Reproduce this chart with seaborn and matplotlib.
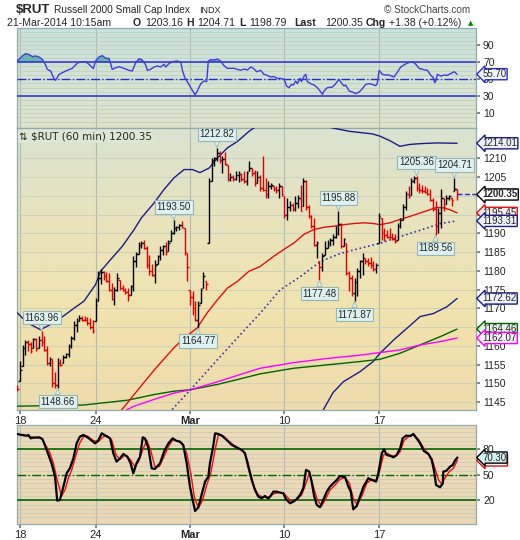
import numpy as np
import pandas as pd
import seaborn as sns
import matplotlib
matplotlib.use("Agg")
import matplotlib.pyplot as plt
import matplotlib.transforms as mtrans
from matplotlib.colors import LinearSegmentedColormap

sns.set_theme(style="ticks")
plt.rcParams["font.family"] = ["Liberation Sans", "DejaVu Sans"]

# ---- hourly bars, Feb 14 (last bar) .. Mar 21 10:15 ----
highs = [
    1149.5,
    1156.0, 1160.3, 1161.5, 1161.5, 1161.0, 1162.0, 1162.0,    # Feb 18
    1162.5, 1163.96, 1162.5, 1160.0, 1157.0, 1156.5, 1153.0,   # Feb 19
    1156.8, 1156.5, 1157.5, 1158.0, 1160.5, 1162.5, 1166.5,    # Feb 20
    1167.5, 1168.3, 1168.0, 1168.0, 1167.8, 1167.3, 1167.0,    # Feb 21
    1172.8, 1179.9, 1180.5, 1180.0, 1179.7, 1179.3, 1176.8,    # Feb 24
    1175.8, 1179.5, 1177.5, 1176.3, 1175.5, 1175.5, 1176.3,    # Feb 25
    1183.9, 1185.0, 1187.8, 1188.0, 1188.3, 1186.5, 1184.3,    # Feb 26
    1181.7, 1183.0, 1184.3, 1186.5, 1187.0, 1187.8, 1188.3,    # Feb 27
    1191.0, 1193.5, 1192.0, 1192.5, 1193.2, 1191.5, 1184.8,    # Feb 28
    1175.0, 1174.5, 1171.9, 1171.9, 1175.4, 1179.7, 1177.2,    # Mar 3
    1204.8, 1210.2, 1210.3, 1212.82, 1212.0, 1210.5, 1211.8,   # Mar 4
    1208.3, 1206.1, 1205.6, 1206.5, 1206.5, 1206.1, 1206.5,    # Mar 5
    1206.5, 1209.2, 1207.5, 1207.0, 1206.5, 1205.6, 1210.5,    # Mar 6
    1204.8, 1203.9, 1203.4, 1202.5, 1202.5, 1203.4, 1202.5,    # Mar 7
    1199.9, 1199.4, 1198.5, 1198.1, 1199.9, 1200.3, 1203.0,    # Mar 10
    1204.8, 1204.3, 1197.6, 1195.0, 1194.1, 1188.0, 1182.5,    # Mar 11
    1184.8, 1188.0, 1188.3, 1188.8, 1189.7, 1191.9, 1195.88,   # Mar 12
    1192.8, 1188.8, 1187.4, 1180.0, 1179.0, 1178.0, 1180.8,    # Mar 13
    1183.0, 1184.8, 1183.5, 1183.4, 1183.8, 1182.5, 1182.0,    # Mar 14
    1195.4, 1194.1, 1191.4, 1191.0, 1191.4, 1190.1, 1189.7,    # Mar 17
    1192.8, 1194.1, 1197.7, 1201.2, 1202.5, 1204.8, 1205.2,    # Mar 18
    1205.36, 1203.4, 1202.9, 1202.5, 1202.0, 1201.7, 1199.4,   # Mar 19
    1198.5, 1196.8, 1201.7, 1199.4, 1200.3, 1200.3, 1199.5,    # Mar 20
    1204.71, 1201.9]                                           # Mar 21
lows = [
    1148.0,
    1150.5, 1154.5, 1157.5, 1158.5, 1158.0, 1159.5, 1158.5,
    1159.5, 1160.0, 1158.5, 1155.0, 1154.5, 1149.0, 1148.7,
    1148.66, 1154.5, 1155.5, 1156.8, 1157.0, 1159.5, 1161.5,
    1163.7, 1166.5, 1166.6, 1166.5, 1165.5, 1164.5, 1163.4,
    1166.5, 1171.9, 1176.5, 1177.5, 1177.0, 1174.5, 1172.3,
    1171.0, 1174.5, 1175.0, 1174.5, 1173.7, 1172.0, 1173.5,
    1174.5, 1181.0, 1184.5, 1186.0, 1185.7, 1180.8, 1179.0,
    1178.5, 1176.8, 1181.7, 1183.0, 1184.3, 1184.3, 1185.2,
    1188.0, 1189.7, 1190.5, 1191.0, 1191.3, 1184.3, 1177.2,
    1171.0, 1168.3, 1166.5, 1164.77, 1171.4, 1175.4, 1175.0,
    1187.4, 1203.9, 1207.9, 1209.2, 1208.8, 1206.1, 1208.3,
    1203.9, 1203.9, 1203.9, 1204.3, 1203.6, 1203.9, 1203.4,
    1203.0, 1206.5, 1205.2, 1202.5, 1203.4, 1201.2, 1201.2,
    1199.4, 1199.4, 1201.7, 1201.2, 1200.8, 1199.4, 1200.0,
    1194.1, 1193.6, 1195.9, 1195.9, 1195.9, 1196.8, 1195.9,
    1197.2, 1196.3, 1194.1, 1191.4, 1186.6, 1183.4, 1177.48,
    1180.0, 1184.3, 1186.0, 1186.5, 1187.0, 1188.8, 1189.5,
    1186.1, 1186.5, 1179.0, 1174.5, 1173.2, 1171.87, 1173.2,
    1178.1, 1179.0, 1181.7, 1181.2, 1180.8, 1180.0, 1179.5,
    1187.4, 1188.3, 1187.9, 1188.8, 1188.6, 1188.3, 1187.4,
    1188.3, 1191.4, 1193.6, 1196.3, 1199.4, 1200.3, 1203.4,
    1201.2, 1200.8, 1200.8, 1200.8, 1200.3, 1198.5, 1195.9,
    1189.56, 1190.1, 1191.4, 1195.9, 1197.7, 1199.0, 1197.3,
    1201.2, 1198.79]
closes = [
    1148.5,
    1153.5, 1159.5, 1161.0, 1160.5, 1158.7, 1161.8, 1159.5,
    1161.5, 1161.0, 1159.0, 1155.5, 1156.5, 1150.0, 1149.5,
    1155.5, 1155.0, 1157.0, 1157.7, 1160.0, 1162.0, 1165.5,
    1166.5, 1167.5, 1167.0, 1166.8, 1166.0, 1165.0, 1164.0,
    1171.0, 1178.0, 1179.8, 1178.5, 1177.3, 1175.0, 1172.6,
    1175.0, 1178.0, 1175.5, 1175.0, 1174.3, 1173.5, 1176.0,
    1182.5, 1184.5, 1187.0, 1187.5, 1186.0, 1181.5, 1180.0,
    1179.0, 1181.5, 1184.0, 1185.5, 1186.5, 1185.0, 1187.5,
    1190.0, 1191.5, 1191.8, 1192.2, 1191.7, 1185.0, 1181.0,
    1173.0, 1170.0, 1167.0, 1171.0, 1175.0, 1178.5, 1176.5,
    1204.0, 1209.5, 1210.0, 1211.5, 1209.5, 1209.8, 1208.5,
    1204.5, 1205.0, 1204.5, 1205.5, 1205.8, 1204.5, 1204.0,
    1206.0, 1207.5, 1206.0, 1203.5, 1205.0, 1202.0, 1201.5,
    1200.5, 1202.5, 1203.0, 1201.8, 1201.5, 1202.5, 1200.5,
    1194.8, 1197.0, 1197.5, 1196.5, 1198.0, 1199.5, 1196.0,
    1203.9, 1197.0, 1194.5, 1192.0, 1187.0, 1187.5, 1181.0,
    1184.0, 1186.0, 1187.5, 1188.2, 1189.0, 1190.0, 1192.5,
    1186.5, 1188.5, 1179.5, 1178.0, 1174.0, 1177.0, 1180.0,
    1182.5, 1183.5, 1182.5, 1182.0, 1181.5, 1180.5, 1181.5,
    1194.5, 1190.0, 1189.5, 1189.0, 1188.9, 1188.5, 1188.0,
    1192.0, 1193.5, 1197.0, 1200.5, 1200.0, 1204.0, 1204.8,
    1202.0, 1201.5, 1201.2, 1201.0, 1200.5, 1199.0, 1196.5,
    1192.0, 1195.5, 1199.5, 1197.0, 1199.5, 1200.0, 1198.97,
    1201.8, 1200.35]

week_bars = [1, 29, 64, 99, 134]
week_labels = ["18", "24", "Mar", "10", "17"]

# overlays (bar index, value)
upper_bar = [0, 2.5, 4.9, 8.6, 12.4, 16.1, 20.4, 24.7, 29, 30.9, 34.6, 38.9, 43.3, 46, 50.7,
             54.4, 58.1, 61.8, 64.9, 67.7, 71.1, 74.2, 77.9, 81.6, 85.9, 87.7, 95, 105, 112,
             116.8, 123, 131.7, 134.4, 138.1, 141.8, 145.5, 149.2, 155.4, 163]
upper_val = [1168.8, 1167.0, 1165.7, 1164.3, 1165.7, 1167.4, 1169.7, 1171.9, 1176.3, 1179.9,
             1183.0, 1186.5, 1191.0, 1194.1, 1198.1, 1201.7, 1204.8, 1207.0, 1207.0, 1206.2,
             1207.4, 1210.1, 1212.8, 1214.5, 1217.2, 1218.1, 1221.0, 1221.0, 1219.5, 1218.1,
             1217.2, 1216.5, 1215.9, 1214.7, 1213.2, 1213.7, 1213.9, 1214.1, 1214.01]
lower_bar = [106, 113.4, 117, 120.8, 127, 131.9, 134.4, 139.4, 144.3, 149.3, 154.2, 159.2, 163]
lower_val = [1134.0, 1142.9, 1147.5, 1150.4, 1153.1, 1155.8, 1158.0, 1161.5, 1164.6, 1167.8,
             1168.6, 1170.4, 1172.62]
ma_red_bar = [38.7, 43.3, 50.7, 54.4, 58.1, 61.8, 66.7, 70.4, 74.2, 77.9, 81.6, 85.9, 89.9, 95.1,
              98.8, 102.5, 106.2, 109.9, 113.6, 117.3, 121, 124.7, 128.4, 132.1, 134.4, 138.1,
              141.8, 145.5, 149.2, 152.9, 155.4, 157.8, 160.3, 163]
ma_red_val = [1142.9, 1147.0, 1153.5, 1156.5, 1159.5, 1162.0, 1164.8, 1168.8, 1172.3, 1175.4,
              1177.2, 1179.9, 1181.1, 1183.9, 1185.7, 1187.4, 1189.7, 1191.0, 1191.6, 1191.9,
              1192.3, 1192.6, 1192.8, 1192.6, 1192.3, 1192.8, 1193.7, 1194.5, 1195.4, 1196.3,
              1196.9, 1196.8, 1196.3, 1195.45]
ma_dot_bar = [57.4, 64.2, 72.8, 82.7, 89.9, 97.4, 104.8, 112.2, 119.6, 127, 134.4, 141.8, 149.3,
              156.7, 163]
ma_dot_val = [1143.0, 1148.3, 1155.2, 1163.0, 1168.6, 1174.9, 1178.4, 1182.4, 1184.6, 1186.0,
              1187.3, 1189.1, 1190.8, 1192.6, 1193.31]
ma_green_bar = [0, 24.5, 40.9, 50.7, 58.1, 64.3, 74.2, 81.6, 89.9, 102.3, 114.6, 127, 134.4,
                141.8, 149.2, 156.6, 163]
ma_green_val = [1143.9, 1144.2, 1145.5, 1147.0, 1147.9, 1148.3, 1149.7, 1151.0, 1152.5, 1154.0,
                1154.9, 1155.8, 1156.4, 1158.0, 1160.2, 1162.4, 1164.46]
ma_mag_bar = [40.5, 43.3, 50.7, 58.1, 64.3, 74.2, 81.6, 89.9, 102.3, 114.6, 127, 134.4, 141.8,
              149.2, 156.6, 163]
ma_mag_val = [1142.9, 1143.9, 1145.7, 1147.4, 1148.3, 1150.4, 1152.1, 1154.0, 1155.5, 1156.6,
              1157.5, 1158.2, 1158.9, 1160.2, 1161.1, 1162.07]

peak_bar = [9, 15, 58, 67, 74, 112, 119, 125, 148, 155, 162]
peak_val = [1163.96, 1148.66, 1193.50, 1164.77, 1212.82, 1177.48, 1195.88, 1171.87, 1205.36,
            1189.56, 1204.71]
peak_side = ["hi", "lo", "hi", "lo", "hi", "lo", "hi", "lo", "hi", "lo", "hi"]

# RSI(14)
rsi_bar = [0.0, 1.9, 3.1, 4.3, 5.6, 6.8, 8.0, 9.3, 10.5, 11.1,
           12.4, 13.4, 14.2, 15.5, 16.7, 18.5, 20.4, 22.3, 23.5, 25.3,
           26.6, 28.2, 29.0, 30.3, 31.5, 32.8, 34.0, 35.2, 36.5, 37.7,
           39.5, 41.4, 42.6, 43.9, 45.1, 46.3, 47.6, 48.2, 49.4, 50.7,
           51.9, 53.1, 54.4, 55.0, 56.2, 57.5, 59.3, 60.6, 61.2, 62.0,
           63.0, 64.3, 65.9, 66.7, 68.0, 69.2, 70.2, 70.8, 71.7, 72.9,
           74.1, 75.4, 76.4, 77.8, 80.3, 81.6, 82.8, 84.0, 85.3, 86.5,
           87.5, 88.7, 90.2, 91.4, 92.7, 93.9, 95.1, 96.4, 97.6, 98.9,
           99.8, 100.7, 101.6, 102.3, 103.2, 103.8, 104.8, 105.3, 106.3, 106.9,
           107.5, 108.7, 110.0, 111.2, 112.2, 113.1, 113.7, 114.9, 116.8, 118.0,
           119.2, 120.5, 121.1, 121.7, 123.0, 124.2, 125.4, 126.7, 127.9, 129.1,
           130.4, 131.6, 132.8, 133.4, 134.1, 135.3, 136.5, 137.8, 139.6, 140.9,
           142.1, 143.3, 144.6, 146.4, 147.7, 148.9, 150.1, 152.0, 153.2, 154.2,
           154.7, 155.1, 155.7, 156.9, 158.2, 159.4, 160.6, 161.9, 163.0]
rsi_val = [71.2, 77.1, 79.8, 79.0, 76.3, 77.1, 75.9, 73.1, 66.5, 61.4,
           59.4, 51.6, 48.4, 55.5, 57.5, 60.2, 62.6, 68.8, 70.0, 70.4,
           67.3, 62.2, 71.2, 75.9, 77.5, 74.3, 74.3, 61.4, 63.3, 64.5,
           62.6, 60.2, 59.4, 69.2, 73.9, 72.4, 66.5, 60.2, 61.4, 64.1,
           65.3, 64.1, 67.3, 64.1, 68.0, 70.4, 71.2, 70.0, 60.2, 52.4,
           46.9, 39.8, 31.2, 35.9, 44.5, 47.7, 46.9, 71.2, 72.8, 72.4,
           73.5, 71.2, 66.5, 62.6, 62.6, 61.4, 60.2, 61.8, 60.6, 64.1,
           62.6, 58.6, 60.2, 55.5, 54.3, 52.4, 52.8, 50.8, 50.8, 49.6,
           41.8, 39.8, 43.7, 42.9, 47.7, 44.5, 50.8, 46.9, 53.5, 55.5,
           46.9, 44.5, 43.0, 39.8, 35.9, 32.0, 35.9, 39.8, 40.6, 44.5,
           49.6, 43.7, 41.8, 42.9, 35.9, 34.7, 32.8, 34.7, 38.6, 43.7,
           44.5, 43.7, 42.2, 44.5, 60.2, 55.5, 54.7, 54.7, 52.4, 58.2,
           64.1, 66.5, 68.8, 70.4, 67.3, 62.6, 61.4, 60.2, 54.7, 51.6,
           45.7, 47.7, 55.5, 53.5, 54.7, 54.3, 56.3, 58.6, 55.7]

# Slow stochastic %K (black) and %D (red)
k_bar = [0.0, 1.6, 3.5, 4.1, 5.0, 5.9, 8.2, 9.4, 10.9, 12.7,
         14.0, 14.8, 15.8, 17.1, 18.3, 19.5, 20.8, 22.0, 23.2, 24.5,
         26.0, 27.6, 28.8, 30.0, 31.3, 32.9, 34.4, 35.6, 36.8, 38.1,
         39.3, 40.8, 42.0, 43.0, 44.2, 45.5, 46.5, 47.3, 48.6, 49.8,
         51.0, 52.9, 54.4, 56.0, 57.6, 58.8, 60.3, 61.5, 62.8, 64.0,
         65.0, 65.9, 67.1, 68.3, 69.6, 70.8, 71.4, 72.7, 73.3, 74.5,
         75.8, 77.6, 79.5, 81.3, 83.2, 84.4, 85.6, 86.9, 88.1, 89.3,
         90.6, 91.8, 93.0, 93.9, 94.9, 96.1, 97.4, 98.6, 99.6, 101.1,
         102.3, 103.5, 104.8, 106.0, 107.0, 108.2, 109.1, 110.0, 111.0, 112.2,
         113.4, 114.7, 115.9, 117.1, 118.4, 119.6, 121.5, 122.7, 123.6, 124.5,
         125.8, 127.0, 128.3, 130.1, 131.4, 133.0, 133.8, 135.1, 135.9, 136.9,
         138.4, 139.4, 140.6, 141.9, 142.8, 144.1, 145.6, 146.8, 148.0, 149.3,
         150.7, 152.4, 153.6, 154.5, 155.2, 156.7, 157.7, 157.9, 159.1, 160.4,
         161.4, 162.2, 163.1]
k_val = [98.0, 96.9, 96.1, 96.9, 92.9, 93.7, 94.1, 91.8, 79.2, 63.5,
         47.8, 19.6, 20.4, 36.1, 51.8, 57.6, 69.4, 87.0, 94.9, 96.9,
         94.1, 90.2, 87.0, 90.2, 98.8, 95.7, 92.9, 75.3, 65.5, 69.4,
         74.5, 71.4, 63.5, 51.8, 63.5, 71.4, 94.1, 92.9, 81.2, 57.6,
         56.9, 63.5, 77.3, 87.0, 92.9, 90.2, 89.0, 85.1, 63.5, 36.1,
         20.4, 7.4, 11.8, 26.3, 42.0, 47.8, 63.5, 85.1, 98.8, 98.0,
         96.1, 91.0, 85.1, 82.3, 79.2, 75.3, 59.6, 43.9, 32.1, 24.3,
         22.4, 25.1, 22.0, 25.1, 30.2, 30.2, 29.0, 28.2, 21.2, 16.5,
         18.4, 21.2, 26.3, 34.1, 55.7, 53.7, 42.0, 25.1, 14.5, 11.8,
         20.4, 30.2, 36.1, 40.0, 43.9, 48.6, 47.0, 36.1, 30.2, 9.4,
         13.3, 24.3, 36.1, 45.9, 43.9, 42.0, 51.8, 75.3, 80.0, 73.3,
         72.1, 70.6, 73.3, 81.2, 92.9, 96.1, 95.7, 98.0, 92.9, 87.0,
         78.0, 74.5, 67.4, 53.7, 38.0, 35.3, 40.0, 53.7, 54.9, 59.6,
         61.6, 66.7, 70.3]
d_bar = [0.0, 3.5, 5.9, 9.0, 11.9, 13.4, 14.8, 16.4, 17.7, 18.9,
         20.2, 21.4, 23.0, 24.5, 26.0, 28.2, 30.0, 31.9, 33.4, 35.0,
         36.6, 38.1, 39.9, 41.8, 43.6, 44.9, 46.5, 48.0, 49.4, 51.0,
         52.6, 54.1, 56.0, 57.6, 59.1, 61.0, 62.8, 64.3, 65.6, 67.1,
         68.7, 70.2, 71.7, 73.3, 74.5, 76.4, 78.2, 80.1, 82.0, 83.8,
         85.3, 86.5, 87.7, 89.3, 91.2, 93.0, 94.9, 96.8, 98.6, 100.1,
         101.7, 103.5, 105.4, 107.0, 108.2, 109.7, 111.2, 112.8, 114.4, 115.9,
         117.8, 119.6, 121.5, 123.1, 124.5, 126.0, 127.6, 129.5, 131.4, 133.2,
         134.4, 135.7, 137.2, 138.8, 140.4, 141.9, 143.3, 145.0, 146.8, 148.7,
         150.3, 152.0, 153.6, 154.8, 156.1, 157.3, 158.5, 160.1, 161.6, 163.1]
d_val = [98.0, 95.7, 94.1, 92.9, 77.3, 63.5, 43.9, 25.1, 32.2, 45.9,
         55.7, 69.4, 86.3, 94.9, 95.7, 90.2, 89.0, 94.9, 95.7, 91.0,
         73.3, 68.2, 73.3, 68.2, 59.6, 65.5, 79.2, 91.0, 79.2, 59.6,
         59.6, 69.4, 83.1, 91.0, 90.2, 87.0, 75.3, 51.8, 24.3, 10.6,
         20.4, 38.0, 51.8, 79.2, 96.9, 95.7, 90.2, 85.1, 81.2, 77.3,
         67.4, 51.8, 36.1, 26.3, 23.5, 23.5, 27.4, 29.0, 29.0, 23.5,
         18.4, 20.4, 26.3, 40.0, 51.8, 36.1, 20.4, 13.3, 22.3, 32.1,
         38.0, 44.7, 47.0, 40.0, 22.3, 14.5, 24.3, 40.0, 44.7, 43.1,
         55.7, 73.3, 75.3, 72.1, 72.1, 77.3, 90.2, 94.9, 96.9, 91.8,
         83.1, 75.3, 69.4, 57.6, 43.9, 39.2, 45.9, 53.7, 57.6, 66.9]

# ---------------------------------------------------------------
W, H = 520, 540
fig = plt.figure(figsize=(W / 100, H / 100), dpi=100)
fig.patch.set_facecolor("white")


def panel(top, bottom):
    return fig.add_axes([17 / W, 1 - bottom / H, 459 / W, (bottom - top) / H])


ax_rsi = panel(28, 128)
ax_px = panel(128, 410)
ax_st = panel(425, 524)
XLIM = (-0.1, 170.0)


def shade(ax, colors):
    cmap = LinearSegmentedColormap.from_list("bg", colors)
    ax.imshow(np.linspace(0, 1, 256).reshape(-1, 1), cmap=cmap, origin="lower",
              aspect="auto", extent=[0, 1, 0, 1], transform=ax.transAxes, zorder=0)


def tag(ax, y, text, ec, fc="white", bold=False):
    # value flag on the right axis, arrow pointing at the plot
    tr = mtrans.blended_transform_factory(ax.transAxes, ax.transData)
    ax.text(1.014, y, text, transform=tr, ha="left", va="center", fontsize=7,
            fontweight="bold" if bold else "normal", zorder=20, clip_on=False,
            bbox=dict(boxstyle="larrow,pad=0.06", fc=fc, ec=ec, lw=1.0))


for ax in (ax_rsi, ax_px, ax_st):
    for s in ax.spines.values():
        s.set_color("#93aaaa")
        s.set_linewidth(0.9)
    ax.yaxis.tick_right()
    ax.tick_params(axis="y", which="major", length=3, color="#777777", labelsize=7.5, pad=2)
    ax.tick_params(axis="y", which="minor", length=0)
    ax.set_xticks(week_bars)
    ax.grid(axis="x", color="#b2bcb4", lw=0.8)
    ax.grid(axis="y", which="both", color="#c9cdbe", lw=0.6)
    ax.set_axisbelow(True)

# ---------------- RSI panel ----------------
shade(ax_rsi, ["#dde5cb", "#c6e3dd"])
rsi_df = pd.DataFrame({"bar": rsi_bar, "rsi": rsi_val})
r = np.array(rsi_val)
ax_rsi.fill_between(rsi_bar, r, 70, where=r > 70, interpolate=True, color="#69b5ab", lw=0, zorder=2)
ax_rsi.fill_between(rsi_bar, r, 30, where=r < 30, interpolate=True, color="#69b5ab", lw=0, zorder=2)
ax_rsi.axhline(70, color="#2a2ad0", lw=1.1, zorder=3)
ax_rsi.axhline(30, color="#2a2ad0", lw=1.1, zorder=3)
ax_rsi.axhline(50, color="#2a2ad0", lw=1.0, ls="-.", zorder=3)
sns.lineplot(data=rsi_df, x="bar", y="rsi", ax=ax_rsi, color="#3d3de0", lw=1.0,
             estimator=None, sort=False, legend=False, zorder=4)
ax_rsi.set_ylim(-7.6, 110)
ax_rsi.set_yticks([10, 30, 50, 70, 90])
ax_rsi.set_yticks(np.arange(0, 110, 5), minor=True)
ax_rsi.tick_params(axis="x", labelbottom=False, length=0)
tag(ax_rsi, rsi_val[-1], f"{rsi_val[-1]:.2f}", "#2a2ad0", fc="#eef3f8")

# ---------------- price panel ----------------
shade(ax_px, ["#eedcac", "#f1e3ad", "#e9e3bd", "#d9e3d0"])
bars = np.arange(len(closes))
c = np.array(closes)
hi = np.array(highs)
lo = np.array(lows)
prev = np.r_[c[0] + 0.7, c[:-1]]
opens = np.clip(prev, lo, hi)
cols = np.where(c < prev, "#e00000", "#000000")
ax_px.vlines(bars, lo, hi, colors=cols, lw=1.0, zorder=5)
ax_px.hlines(opens, bars - 0.6, bars, colors=cols, lw=1.0, zorder=5)
ax_px.hlines(c, bars, bars + 0.6, colors=cols, lw=1.0, zorder=5)

overlays = [
    (upper_bar, upper_val, "#1c1c8a", "-", 1.0),
    (lower_bar, lower_val, "#1c1c8a", "-", 1.0),
    (ma_green_bar, ma_green_val, "#006400", "-", 1.0),
    (ma_mag_bar, ma_mag_val, "#ff00ff", "-", 1.0),
    (ma_red_bar, ma_red_val, "#e01010", "-", 1.0),
    (ma_dot_bar, ma_dot_val, "#3535a8", ":", 1.2),
]
for xb, yv, col, ls, lw in overlays:
    sns.lineplot(x=xb, y=yv, ax=ax_px, color=col, lw=lw, linestyle=ls,
                 estimator=None, sort=False, legend=False, zorder=4)

ax_px.hlines(c[-1], bars[-1], XLIM[1], colors="#2a2ad0", linestyles="--", lw=1.0, zorder=6)

for b, v, side in zip(peak_bar, peak_val, peak_side):
    dy = 6 if side == "hi" else -6
    ax_px.annotate(f"{v:.2f}", xy=(b, v), xytext=(0, dy), textcoords="offset points",
                   ha="center", va="bottom" if side == "hi" else "top", fontsize=7,
                   zorder=12,
                   bbox=dict(boxstyle="square,pad=0.18", fc="#dcf1f0", ec="#98b6b6", lw=0.8),
                   arrowprops=dict(arrowstyle="wedge,tail_width=0.5,shrink_factor=0.5",
                                   fc="#dcf1f0", ec="#98b6b6", lw=0.6, shrinkA=0, shrinkB=0))

ax_px.set_ylim(1142.88, 1218.08)
ax_px.set_yticks(np.arange(1145, 1211, 5))
ax_px.set_xticklabels(week_labels)
ax_px.tick_params(axis="x", length=3, color="#777777", labelsize=8, pad=1)
ax_px.get_xticklabels()[2].set_fontweight("bold")
ax_px.text(0.004, 0.988, f"\u21c5 $RUT (60 min) {c[-1]:.2f}", transform=ax_px.transAxes,
           ha="left", va="top", fontsize=7.5, family=["DejaVu Sans"], zorder=15,
           bbox=dict(fc="#dde5d3", ec="none", pad=0.8))

tag(ax_px, upper_val[-1], f"{upper_val[-1]:.2f}", "#1c1c8a", fc="#eef3f8")
tag(ax_px, ma_red_val[-1], f"{ma_red_val[-1]:.2f}", "#e01010", fc="#fbeeee")
tag(ax_px, ma_dot_val[-1], f"{ma_dot_val[-1]:.2f}", "#1c1c8a", fc="#eef3f8")
tag(ax_px, c[-1], f"{c[-1]:.2f}", "#000000", bold=True)
tag(ax_px, lower_val[-1], f"{lower_val[-1]:.2f}", "#1c1c8a", fc="#eef3f8")
tag(ax_px, ma_green_val[-1], f"{ma_green_val[-1]:.2f}", "#006400", fc="#e4f4e4")
tag(ax_px, ma_mag_val[-1], f"{ma_mag_val[-1]:.2f}", "#ff00ff", fc="#fbeefb")

# ---------------- stochastic panel ----------------
shade(ax_st, ["#ebd7b4", "#eedbb8"])
ax_st.axhline(80, color="#006400", lw=1.2, zorder=3)
ax_st.axhline(20, color="#006400", lw=1.2, zorder=3)
ax_st.axhline(50, color="#006400", lw=1.0, ls="-.", zorder=3)
sns.lineplot(x=d_bar, y=d_val, ax=ax_st, color="#ee1010", lw=1.0,
             estimator=None, sort=False, legend=False, zorder=4)
sns.lineplot(x=k_bar, y=k_val, ax=ax_st, color="#000000", lw=1.6,
             estimator=None, sort=False, legend=False, zorder=5)
ax_st.set_ylim(-7.9, 108.6)
ax_st.set_yticks([20, 50, 80])
ax_st.set_yticks(np.arange(0, 106, 5), minor=True)
ax_st.set_xticklabels(week_labels)
ax_st.tick_params(axis="x", length=3, color="#777777", labelsize=8, pad=1)
ax_st.get_xticklabels()[2].set_fontweight("bold")
tag(ax_st, d_val[-1], f"{d_val[-1]:.2f}", "#e01010")
tag(ax_st, k_val[-1], f"{k_val[-1]:.2f}", "#000000", fc="#d4f2f2")

for ax in (ax_rsi, ax_px, ax_st):
    ax.set_xlim(*XLIM)
    ax.set_xlabel("")
    ax.set_ylabel("")

# ---------------- header ----------------
def htext(xpx, ypx, s, **kw):
    fig.text(xpx / W, 1 - ypx / H, s, ha="left", va="center", **kw)


htext(16, 10, "$RUT", fontsize=9.5, fontweight="bold")
htext(54, 10, "Russell 2000 Small Cap Index", fontsize=7.3)
htext(199, 10.5, "INDX", fontsize=6.5)
htext(384, 10, "\u00a9 StockCharts.com", fontsize=7.2, color="#444444")
row = [(7, "21-Mar-2014 10:15am", False), (133, "O", True), (145, "1203.16", False),
       (186, "H", True), (197, "1204.71", False), (239, "L", True), (249, "1198.79", False),
       (294, "Last", True), (325, "1200.35", False), (366, "Chg", True),
       (389, "+1.38 (+0.12%)", False)]
for xp, s, b in row:
    htext(xp, 23, s, fontsize=7.6, fontweight="bold" if b else "normal")
htext(468, 23, "\u25b2", fontsize=5, color="#008800", family=["DejaVu Sans"])

fig.savefig("out.png", dpi=100)
